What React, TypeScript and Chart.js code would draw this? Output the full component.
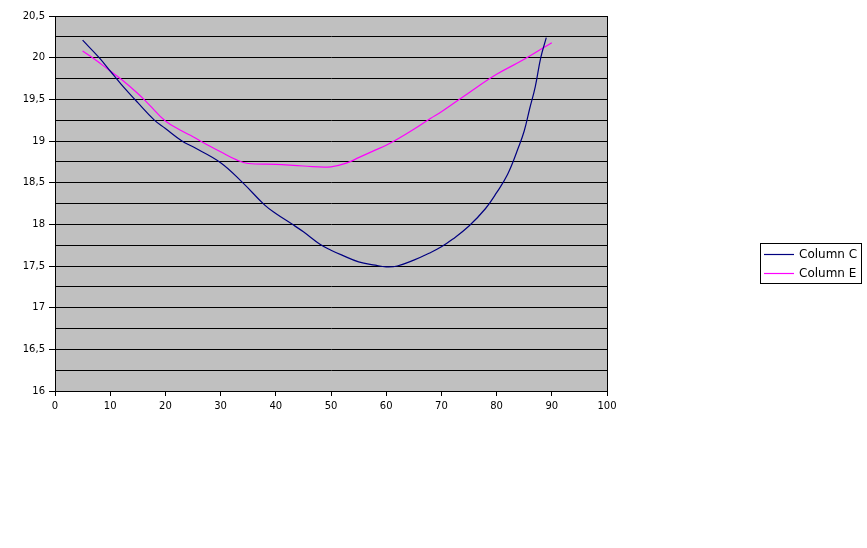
import React, { useEffect, useRef } from "react";
import { Chart, registerables } from "chart.js";

Chart.register(...registerables);

// Column C (navy)
const xC = [5, 8, 10, 12, 15, 18, 20, 23, 25, 30, 34, 38, 40, 43, 45, 48, 50, 52, 55, 58, 60, 62, 65, 68, 70, 72, 75, 78, 80, 82, 84, 85, 86, 87, 88, 89];
const yC = [20.21, 20.0, 19.84, 19.68, 19.46, 19.25, 19.15, 19.0, 18.93, 18.74, 18.5, 18.23, 18.13, 18.0, 17.91, 17.76, 17.69, 17.63, 17.55, 17.51, 17.49, 17.5, 17.57, 17.66, 17.73, 17.82, 17.98, 18.19, 18.38, 18.6, 18.93, 19.12, 19.39, 19.65, 20.0, 20.24];

// Column E (magenta)
const xE = [5, 7, 10, 12, 15, 17, 20, 23, 25, 28, 30, 33, 35, 40, 45, 50, 53, 55, 58, 60, 62, 65, 68, 70, 75, 80, 85, 90];
const yE = [20.08, 19.99, 19.84, 19.74, 19.57, 19.44, 19.24, 19.12, 19.05, 18.94, 18.87, 18.77, 18.73, 18.72, 18.7, 18.69, 18.74, 18.8, 18.89, 18.95, 19.02, 19.14, 19.27, 19.35, 19.58, 19.8, 19.98, 20.18];

const seriesNames = ["Column C", "Column E"];
const seriesColors = ["#000080", "#ff00ff"];

const xTicks = [0, 10, 20, 30, 40, 50, 60, 70, 80, 90, 100];
const yMin = 16;
const yMax = 20.5;

const FONT = "DejaVu Sans";

const isHalf = (v: number) => Math.abs(v * 2 - Math.round(v * 2)) < 1e-6;

const plotFrame = {
  id: "plotFrame",
  beforeDraw(chart: any) {
    const { ctx, chartArea: a } = chart;
    ctx.save();
    ctx.fillStyle = "#c0c0c0";
    ctx.fillRect(a.left, a.top, a.right - a.left, a.bottom - a.top);
    ctx.restore();
  },
  afterDraw(chart: any) {
    const { ctx, chartArea: a } = chart;
    ctx.save();
    ctx.strokeStyle = "#000";
    ctx.lineWidth = 1;
    ctx.strokeRect(Math.round(a.left) + 0.5, Math.round(a.top) + 0.5, Math.round(a.right - a.left), Math.round(a.bottom - a.top));
    // legend
    const bx = 760.5, by = 243.5, bw = 101, bh = 40;
    ctx.fillStyle = "#fff";
    ctx.fillRect(bx, by, bw, bh);
    ctx.strokeStyle = "#000";
    ctx.strokeRect(bx, by, bw, bh);
    ctx.font = `12px ${FONT}`;
    ctx.textBaseline = "middle";
    ctx.textAlign = "left";
    const rows = [254.5, 273.5];
    seriesNames.forEach((name, i) => {
      ctx.strokeStyle = seriesColors[i];
      ctx.lineWidth = 1.2;
      ctx.beginPath();
      ctx.moveTo(764, rows[i]);
      ctx.lineTo(794, rows[i]);
      ctx.stroke();
      ctx.fillStyle = "#000";
      ctx.fillText(name, 799, rows[i]);
    });
    ctx.restore();
  },
};

export default function App() {
  const ref = useRef<HTMLCanvasElement | null>(null);
  useEffect(() => {
    if (!ref.current) return;
    const chart = new Chart(ref.current, {
      type: "line",
      data: {
        datasets: [
          {
            label: seriesNames[0],
            data: xC.map((x, i) => ({ x, y: yC[i] })),
            borderColor: seriesColors[0],
            backgroundColor: seriesColors[0],
            borderWidth: 1.2,
            pointRadius: 0,
            tension: 0.4,
            fill: false,
          },
          {
            label: seriesNames[1],
            data: xE.map((x, i) => ({ x, y: yE[i] })),
            borderColor: seriesColors[1],
            backgroundColor: seriesColors[1],
            borderWidth: 1.2,
            pointRadius: 0,
            tension: 0.4,
            fill: false,
          },
        ],
      },
      options: {
        animation: false,
        responsive: false,
        maintainAspectRatio: false,
        devicePixelRatio: 1,
        layout: { padding: { left: 0, right: 260, top: 16, bottom: 137 } },
        plugins: { legend: { display: false }, tooltip: { enabled: false } },
        scales: {
          x: {
            type: "linear",
            min: 0,
            max: 100,
            afterBuildTicks: (s: any) => {
              s.ticks = xTicks.map((v) => ({ value: v }));
            },
            afterFit: (s: any) => {
              s.height = 20;
            },
            ticks: {
              autoSkip: false,
              maxRotation: 0,
              padding: 4,
              color: "#000",
              font: { family: FONT, size: 10 },
              callback: (v: any) => String(v),
            },
            grid: { drawOnChartArea: false, drawTicks: true, tickLength: 5, tickColor: "#000", color: "#000" },
            border: { display: true, color: "#000", width: 1 },
          },
          y: {
            type: "linear",
            min: yMin,
            max: yMax,
            afterFit: (s: any) => {
              s.width = 55;
            },
            ticks: {
              stepSize: 0.25,
              autoSkip: false,
              padding: 4,
              color: "#000",
              font: { family: FONT, size: 10 },
              callback: (v: any) => (isHalf(Number(v)) ? String(Number(v)).replace(".", ",") : ""),
            },
            grid: {
              color: "#000",
              lineWidth: 1,
              tickLength: 6,
              tickColor: (c: any) => (c.tick && isHalf(c.tick.value) ? "#000" : "rgba(0,0,0,0)"),
            },
            border: { display: true, color: "#000", width: 1 },
          },
        },
      },
      plugins: [plotFrame],
    });
    return () => chart.destroy();
  }, []);
  return (
    <div style={{ position: "fixed", left: 0, top: 0, width: 867, height: 548, background: "#fff" }}>
      <canvas ref={ref} width={867} height={548} style={{ display: "block", width: 867, height: 548 }} />
    </div>
  );
}
